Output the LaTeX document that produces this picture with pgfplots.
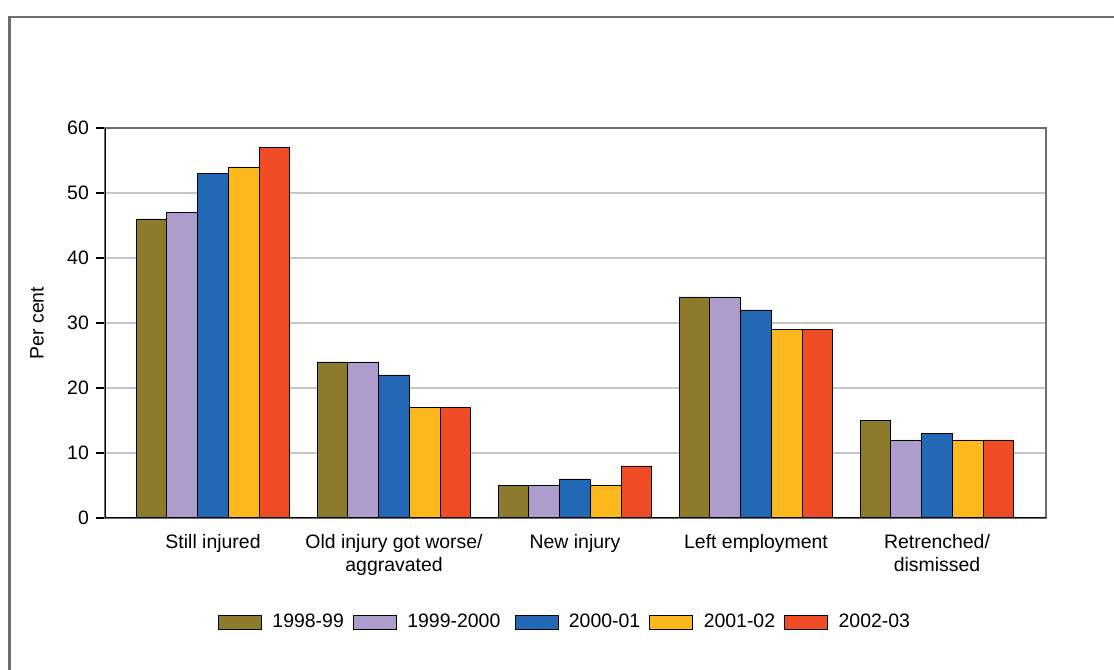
\documentclass[border=0pt]{standalone}
\usepackage{pgfplots}
\pgfplotsset{compat=1.18}
\usepackage{fontspec}
\setmainfont{Liberation Sans}

\definecolor{cOlive}{HTML}{8B7B2B}
\definecolor{cLav}{HTML}{AE9CCC}
\definecolor{cBlue}{HTML}{2368B4}
\definecolor{cYell}{HTML}{FDB81E}
\definecolor{cRed}{HTML}{F04D26}
\definecolor{cGrid}{HTML}{C4C6C8}
\definecolor{cFrame}{HTML}{6E6E6E}

\begin{document}
\begin{tikzpicture}[x=0.54pt,y=0.54pt]
  \useasboundingbox (0,0) rectangle (1114,670);
  % outer panel frame (left and top edges)
  \draw[cFrame, line width=1.1pt] (9.5,0) -- (9.5,653) -- (1114,653);

  \begin{axis}[
    at={(56.7pt,82.08pt)}, anchor=south west,
    scale only axis,
    width=508.1pt, height=210.6pt,
    ybar=0pt, bar width=16.6pt,
    xmin=-0.597, xmax=4.602,
    ymin=0, ymax=60,
    ytick={0,10,...,60},
    xtick={0,1,2,3,4},
    xticklabels={Still injured, Old injury got worse/\\aggravated, New injury, Left employment, Retrenched/\\dismissed},
    xticklabel style={align=center, font=\fontsize{10.5}{12.2}\selectfont, yshift=-0.6pt},
    yticklabel style={font=\fontsize{10.5}{12}\selectfont, xshift=-0.3pt},
    /pgf/number format/assume math mode=true,
    x tick style={draw=none},
    ytick pos=left,
    y tick style={black, line width=0.6pt},
    tick align=outside,
    major tick length=4.9pt,
    ymajorgrids,
    major grid style={cGrid, line width=0.9pt},
    axis line style={cFrame, line width=0.8pt},
    ylabel={Per cent},
    ylabel style={at={(axis description cs:-0.0723,0.5)}, anchor=center, font=\fontsize{10.5}{12}\selectfont},
    legend columns=5,
    legend style={
      at={(axis description cs:0.4899,-0.267)}, anchor=center,
      draw=none, fill=none,
      font=\fontsize{10.5}{12}\selectfont,
      /tikz/every odd column/.append style={column sep=3.6pt},
      /tikz/every even column/.append style={column sep=3.0pt},
    },
    legend image code/.code={%
      \draw[#1, line width=0.5pt] (0pt,-3.8pt) rectangle (23.2pt,3.8pt);},
    every axis plot/.append style={draw=black, line width=0.5pt},
  ]
    \addplot[fill=cOlive] coordinates {(0,46) (1,24) (2,5) (3,34) (4,15)};
    \addplot[fill=cLav]   coordinates {(0,47) (1,24) (2,5) (3,34) (4,12)};
    \addplot[fill=cBlue]  coordinates {(0,53) (1,22) (2,6) (3,32) (4,13)};
    \addplot[fill=cYell]  coordinates {(0,54) (1,17) (2,5) (3,29) (4,12)};
    \addplot[fill=cRed]   coordinates {(0,57) (1,17) (2,8) (3,29) (4,12)};
    \legend{1998-99, 1999-2000\kern2.7pt, 2000-01, 2001-02, 2002-03}
    % solid baseline and value axis drawn over the frame
    \draw[black, line width=1.1pt] (axis cs:-0.597,0) -- (axis cs:4.602,0);
    \draw[black, line width=0.6pt] (axis cs:-0.597,0) -- (axis cs:-0.597,60);
  \end{axis}
\end{tikzpicture}
\end{document}
